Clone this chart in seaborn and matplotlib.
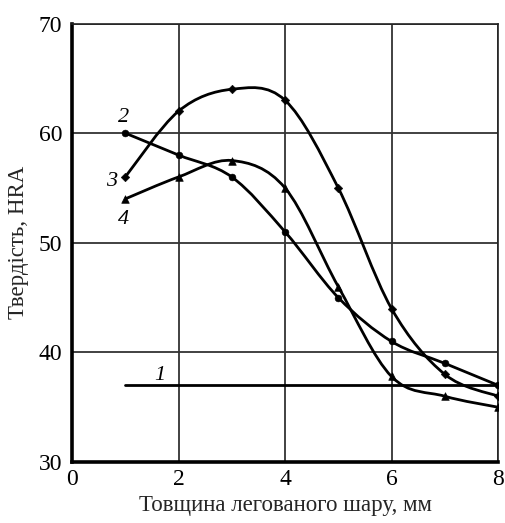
import numpy as np
import pandas as pd
import matplotlib
matplotlib.use("Agg")
import matplotlib.pyplot as plt
from matplotlib.path import Path
from matplotlib.patches import PathPatch
import seaborn as sns

# Data
thickness = [1, 2, 3, 4, 5, 6, 7, 8]
hra_2 = [60, 58, 56, 51, 45, 41, 39, 37]
hra_3 = [56, 62, 64, 63, 55, 44, 38, 36]
hra_4 = [54, 56, 57.5, 55, 46, 37.8, 36, 35]
line1_x = [1, 8]
line1_y = [37, 37]
x_ticks = [0, 2, 4, 6, 8]
y_ticks = [30, 40, 50, 60, 70]
x_label = "Товщина легованого шару, мм"
y_label = "Твердість, HRA"

sns.set_style("white")
plt.rcParams["font.family"] = ["Liberation Serif", "DejaVu Serif"]

fig = plt.figure(figsize=(5.05, 5.23), dpi=100)
ax = fig.add_axes([72 / 505, 1 - 462 / 523, (498 - 72) / 505, (462 - 23.5) / 523])


def smooth_path(xs, ys):
    pts = np.column_stack([xs, ys]).astype(float)
    ext = np.vstack([pts[0], pts, pts[-1]])
    verts = [tuple(pts[0])]
    codes = [Path.MOVETO]
    for i in range(1, len(ext) - 2):
        p0, p1, p2, p3 = ext[i - 1], ext[i], ext[i + 1], ext[i + 2]
        c1 = p1 + (p2 - p0) / 6.0
        c2 = p2 - (p3 - p1) / 6.0
        verts += [tuple(c1), tuple(c2), tuple(p2)]
        codes += [Path.CURVE4] * 3
    return Path(verts, codes)


series = [(hra_2, "o", 4.5), (hra_3, "D", 4.0), (hra_4, "^", 5.0)]
for ys, mk, ms in series:
    ax.add_patch(PathPatch(smooth_path(thickness, ys), fill=False,
                           edgecolor="black", lw=2.0, zorder=3))
    df = pd.DataFrame({"x": thickness, "y": ys})
    sns.scatterplot(data=df, x="x", y="y", marker=mk, s=ms ** 2 * 1.2,
                    color="black", edgecolor="black", ax=ax, zorder=4, legend=False)

sns.lineplot(x=line1_x, y=line1_y, color="black", lw=2.0, ax=ax, zorder=3)

lab_kw = dict(fontsize=16, fontstyle="italic", ha="center", va="center", color="black")
ax.text(1.65, 37.9, "1", **lab_kw)
ax.text(0.97, 61.4, "2", **lab_kw)
ax.text(0.75, 55.6, "3", **lab_kw)
ax.text(0.97, 52.1, "4", **lab_kw)

ax.set_xlim(0, 8)
ax.set_ylim(30, 70)
ax.set_xticks(x_ticks)
ax.set_yticks(y_ticks)
ax.tick_params(labelsize=17, length=0, colors="black")
ax.tick_params(axis="x", pad=5)
ax.tick_params(axis="y", pad=7)
ax.grid(True, color="#333333", lw=1.3)
ax.set_axisbelow(True)
for side in ["left", "bottom"]:
    ax.spines[side].set_linewidth(2.6)
    ax.spines[side].set_color("black")
for side in ["top", "right"]:
    ax.spines[side].set_linewidth(1.2)
    ax.spines[side].set_color("#222222")
ax.set_xlabel(x_label, fontsize=16.5, labelpad=4)
ax.set_ylabel(y_label, fontsize=16.5, labelpad=7)

fig.savefig("out.png", dpi=100)
